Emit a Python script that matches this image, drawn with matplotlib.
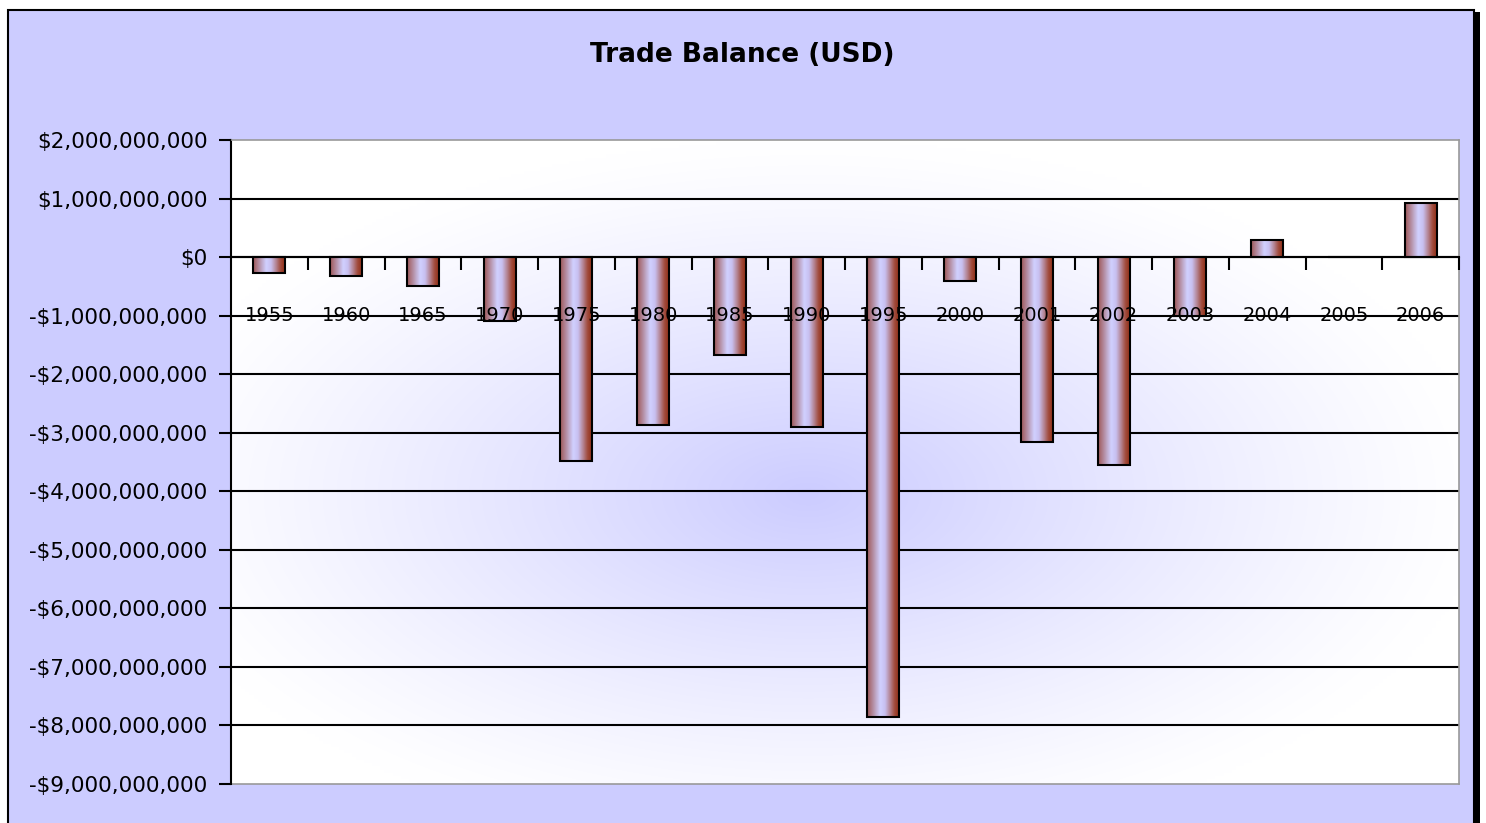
import matplotlib.pyplot as plt
import numpy as np
from matplotlib.colors import LinearSegmentedColormap
from matplotlib.patches import Rectangle
from matplotlib.ticker import FuncFormatter

years = ['1955', '1960', '1965', '1970', '1975', '1980', '1985', '1990',
         '1995', '2000', '2001', '2002', '2003', '2004', '2005', '2006']
balance = [-0.28e9, -0.32e9, -0.49e9, -1.10e9, -3.48e9, -2.87e9, -1.67e9, -2.90e9,
           -7.85e9, -0.40e9, -3.15e9, -3.55e9, -1.00e9, 0.30e9, 0.0, 0.92e9]
yticks = np.arange(-9e9, 2.01e9, 1e9)

lavender = '#CCCCFF'
plt.rcParams['font.family'] = ['DejaVu Sans']

fig = plt.figure(figsize=(14.86, 8.23), dpi=100, facecolor='white')

# chart frame with shadow on the right
fig.patches.append(Rectangle((12 / 1486, -0.01), 1468 / 1486, 1.0 - 12 / 823 + 0.01,
                             transform=fig.transFigure, facecolor='black',
                             edgecolor='none', zorder=-3))
fig.patches.append(Rectangle((8 / 1486, -0.01), 1466 / 1486, 1.0 - 10 / 823 + 0.01,
                             transform=fig.transFigure, facecolor=lavender,
                             edgecolor='black', linewidth=1.5, zorder=-2))

ax = fig.add_axes([231 / 1486, 39 / 823, 1228 / 1486, 644 / 823])
ax.set_facecolor('white')

# soft lavender glow in the plot area
gx, gy = np.meshgrid(np.linspace(0, 1, 300), np.linspace(0, 1, 200))
d = np.sqrt(((gx - 0.47) / 0.55) ** 2 + ((gy - 0.45) / 0.55) ** 2)
t = np.clip(1 - d, 0, 1) ** 1.2
bg = np.ones((200, 300, 3))
bg[..., 0] = 1 - t * (1 - 0.80)
bg[..., 1] = 1 - t * (1 - 0.80)
ax.imshow(bg, extent=(0, 1, 0, 1), transform=ax.transAxes, origin='lower',
          aspect='auto', zorder=0, interpolation='bilinear')

x = np.arange(len(years))
ax.set_yticks(yticks)
# gridlines behind the bars, axis (and year labels) above them
for yv in yticks[1:-1]:
    ax.axhline(yv, color='black', linewidth=1.5, zorder=1)
ax.set_axisbelow(False)

bars = ax.bar(x, balance, width=0.42, facecolor='none', edgecolor='black',
              linewidth=1.5, zorder=2)

bar_cmap = LinearSegmentedColormap.from_list(
    'bar', [(0.0, '#9E5858'), (0.4, '#D0D0FF'), (0.55, '#C8C0F0'),
            (0.85, '#A04A3A'), (1.0, '#8E2A10')])
grad = np.linspace(0, 1, 64).reshape(1, -1)
for b in bars:
    if b.get_height() == 0:
        continue
    y0, y1 = sorted([b.get_y(), b.get_y() + b.get_height()])
    im = ax.imshow(grad, cmap=bar_cmap, aspect='auto', zorder=1.9,
                   extent=(b.get_x(), b.get_x() + b.get_width(), y0, y1),
                   interpolation='bilinear')
    im.set_clip_path(b)

ax.set_xlim(-0.5, len(years) - 0.5)
ax.set_ylim(-9e9, 2e9)

# category axis crosses at zero
ax.spines['bottom'].set_position(('data', 0))
ax.spines['bottom'].set_color('black')
ax.spines['bottom'].set_linewidth(1.5)

ax.set_xticks(x)
ax.set_xticklabels(years)
ax.set_xticks(np.arange(0.5, len(years), 1), minor=True)
ax.tick_params(axis='x', which='major', length=0, pad=35, labelsize=14)
ax.tick_params(axis='x', which='minor', length=9, width=1.5, direction='out')
ax.tick_params(axis='y', length=9, width=1.5, pad=8, labelsize=15.5)
ax.yaxis.set_major_formatter(FuncFormatter(
    lambda v, p: ('-$' if v < 0 else '$') + format(int(round(abs(v))), ',')))

for s in ['top', 'right']:
    ax.spines[s].set_color('#999999')
    ax.spines[s].set_linewidth(1.2)
ax.axhline(-9e9, color='#999999', linewidth=1.2, zorder=1, clip_on=False)
ax.spines['left'].set_color('black')
ax.spines['left'].set_linewidth(1.5)

fig.text(742 / 1486, 1 - 55 / 823, 'Trade Balance (USD)', ha='center',
         va='center', fontsize=19, fontweight='bold')

fig.savefig('out.png', dpi=100, facecolor=fig.get_facecolor())
